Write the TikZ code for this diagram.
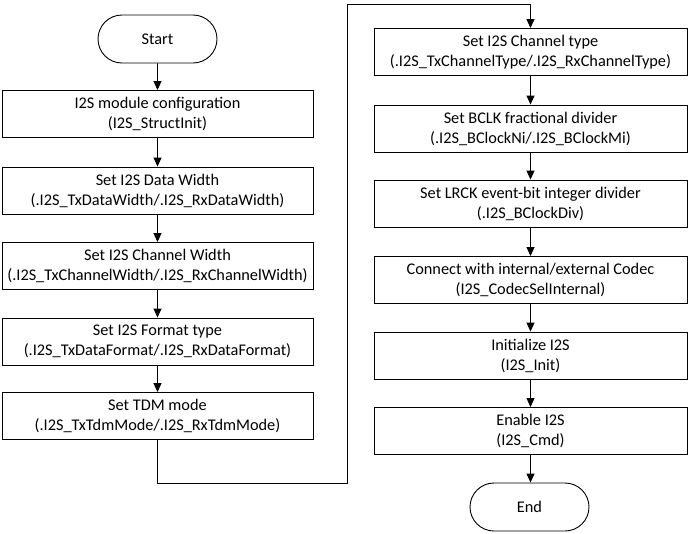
\documentclass[tikz,border=0pt]{standalone}
\usepackage{fontspec}
\setmainfont{Carlito}
\usetikzlibrary{arrows.meta,shapes.misc}
\begin{document}
\begin{tikzpicture}[x=1pt,y=-1pt,
  every node/.style={font=\fontsize{16.3}{20}\selectfont},
  stepbox/.style={draw,line width=0.9pt,minimum width=311pt,minimum height=47pt,inner sep=0pt,align=center},
  term/.style={draw,line width=0.9pt,rounded rectangle,minimum width=119pt,minimum height=48pt,inner sep=0pt},
  conn/.style={draw,line width=0.9pt,-{Triangle[length=9pt,width=8pt]}}]
\useasboundingbox (0,0) rectangle (688,533);
\node[term] (start) at (157.5,39) {Start};
\node[stepbox] (l1) at (157.5,114) {I2S module configuration\\(I2S\_StructInit)};
\node[stepbox] (l2) at (157.5,190.5) {Set I2S Data Width\\(.I2S\_TxDataWidth/.I2S\_RxDataWidth)};
\node[stepbox] (l3) at (157.5,266) {Set I2S Channel Width\\(.I2S\_TxChannelWidth/.I2S\_RxChannelWidth)};
\node[stepbox] (l4) at (157.5,341.5) {Set I2S Format type\\(.I2S\_TxDataFormat/.I2S\_RxDataFormat)};
\node[stepbox] (l5) at (157.5,416) {Set TDM mode\\(.I2S\_TxTdmMode/.I2S\_RxTdmMode)};
\node[stepbox,minimum width=313pt] (r1) at (530.5,52) {Set I2S Channel type\\(.I2S\_TxChannelType/.I2S\_RxChannelType)};
\node[stepbox,minimum width=313pt] (r2) at (530.5,128.5) {Set BCLK fractional divider\\(.I2S\_BClockNi/.I2S\_BClockMi)};
\node[stepbox,minimum width=313pt] (r3) at (530.5,203.5) {Set LRCK event-bit integer divider\\(.I2S\_BClockDiv)};
\node[stepbox,minimum width=313pt] (r4) at (530.5,280) {Connect with internal/external Codec\\(I2S\_CodecSelInternal)};
\node[stepbox,minimum width=313pt] (r5) at (530.5,355.5) {Initialize I2S\\(I2S\_Init)};
\node[stepbox,minimum width=313pt] (r6) at (530.5,431) {Enable I2S\\(I2S\_Cmd)};
\node[term] (end) at (529.5,507) {End};
\coordinate (c1) at (157.5,483);
\coordinate (c2) at (347,483);
\coordinate (c3) at (347,4);
\coordinate (c4) at (530.5,4);
\path[conn] (start) -- (l1);
\path[conn] (l1) -- (l2);
\path[conn] (l2) -- (l3);
\path[conn] (l3) -- (l4);
\path[conn] (l4) -- (l5);
\path[conn] (l5.south) -- (c1) -- (c2) -- (c3) -- (c4) -- (r1.north);
\path[conn] (r1) -- (r2);
\path[conn] (r2) -- (r3);
\path[conn] (r3) -- (r4);
\path[conn] (r4) -- (r5);
\path[conn] (r5) -- (r6);
\path[conn] (r6.south) -- (end.north -| r6.south);
\end{tikzpicture}
\end{document}
